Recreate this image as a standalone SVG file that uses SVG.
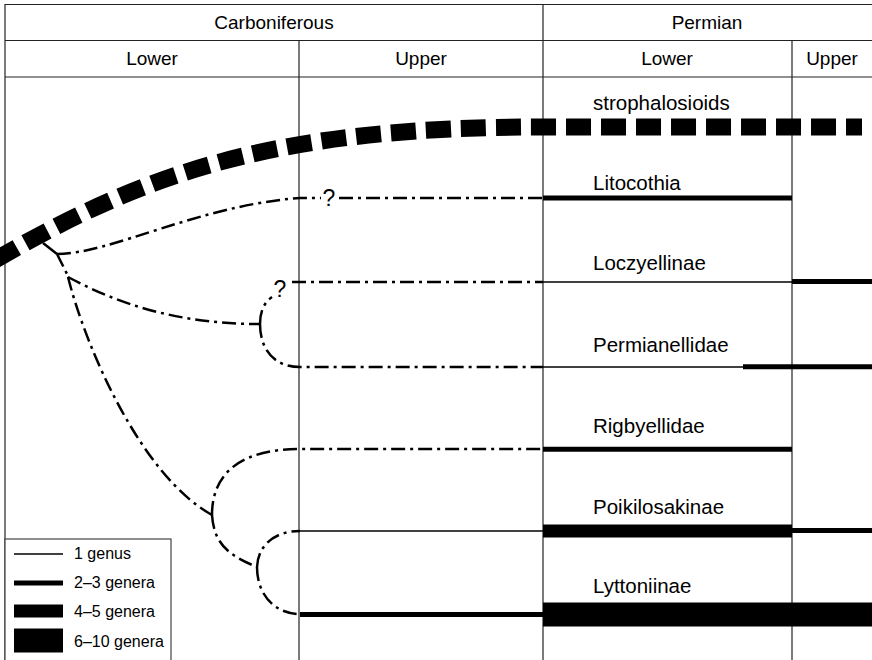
<svg xmlns="http://www.w3.org/2000/svg" width="872" height="660" viewBox="0 0 872 660">
<style>
 text { font-family: "Liberation Sans", Arial, sans-serif; fill:#000; }
 .hdr { font-size:19px; text-anchor:middle; }
 .lbl { font-size:20.5px; }
 .leg { font-size:16px; }
 .q { font-size:23px; text-anchor:middle; }
 .grid { stroke:#222; stroke-width:1.2; fill:none; }
 .dd { stroke:#000; stroke-width:2.5; fill:none; stroke-dasharray:14 5 3 5; }
 .g1 { stroke:#000; stroke-width:1.5; fill:none; }
 .g2 { stroke:#000; stroke-width:5; fill:none; }
 .thick { stroke:#000; stroke-width:17; fill:none; stroke-dasharray:25 10; }
</style>
<rect width="872" height="660" fill="#fff"/>
<g id="grid" class="grid">
 <line x1="5" y1="4.5" x2="872" y2="4.5"/>
 <line x1="5" y1="40.5" x2="872" y2="40.5"/>
 <line x1="5" y1="77" x2="872" y2="77"/>
 <line x1="5" y1="4" x2="5" y2="660"/>
 <line x1="299" y1="40.5" x2="299" y2="660"/>
 <line x1="543" y1="4" x2="543" y2="660"/>
 <line x1="792" y1="40.5" x2="792" y2="660"/>
</g>
<g id="header">
 <text class="hdr" x="274" y="29">Carboniferous</text>
 <text class="hdr" x="707" y="29">Permian</text>
 <text class="hdr" x="152" y="65">Lower</text>
 <text class="hdr" x="421" y="65">Upper</text>
 <text class="hdr" x="667" y="65">Lower</text>
 <text class="hdr" x="832" y="65">Upper</text>
</g>
<g id="connectors">
 <line x1="43" y1="243" x2="57" y2="254" stroke="#000" stroke-width="2.5"/>
 <path class="dd" d="M57,254 C110,254 200,205 300,198 L321,198"/>
 <path class="dd" d="M339,198 L543,198"/>
 <path class="dd" d="M57,254 L68,276"/>
 <path class="dd" d="M68,277 C120,305 180,324 260,324"/>
 <path class="dd" d="M260,324 C260,310 265,302 272,297"/>
 <path class="dd" d="M292,282 L543,282"/>
 <path class="dd" d="M260,324 C260,347 272,367 300,367 L543,367"/>
 <path class="dd" d="M68,277 C85,345 140,475 212,515"/>
 <path class="dd" d="M212,515 C212,470 245,449 300,449 L543,449"/>
 <path class="dd" d="M212,515 C214,545 230,556 257,567"/>
 <path class="dd" d="M257,567 C258,545 275,531 300,531"/>
 <path class="dd" d="M257,567 C257,595 275,614 300,614"/>
 <text class="q" x="329" y="206">?</text>
 <text class="q" x="280" y="297">?</text>
</g>
<g id="strophalosioids">
 <path class="thick" d="M-5,260 C150,170 280,127 543,127 L862,127"/>
 <text class="lbl" x="593" y="110">strophalosioids</text>
</g>
<g id="litocothia">
 <line class="g2" x1="543" y1="198" x2="792" y2="198"/>
 <text class="lbl" x="593" y="190">Litocothia</text>
</g>
<g id="loczyellinae">
 <line class="g1" x1="543" y1="282" x2="792" y2="282"/>
 <line class="g2" x1="792" y1="281.5" x2="872" y2="281.5"/>
 <text class="lbl" x="593" y="270">Loczyellinae</text>
</g>
<g id="permianellidae">
 <line class="g1" x1="543" y1="367" x2="745" y2="367"/>
 <line class="g2" x1="743" y1="366.8" x2="872" y2="366.8"/>
 <text class="lbl" x="593" y="352">Permianellidae</text>
</g>
<g id="rigbyellidae">
 <line class="g2" x1="543" y1="449.3" x2="792" y2="449.3"/>
 <text class="lbl" x="593" y="433">Rigbyellidae</text>
</g>
<g id="poikilosakinae">
 <line class="g1" x1="300" y1="531" x2="543" y2="531"/>
 <rect x="543" y="524.5" width="249" height="13" fill="#000"/>
 <line class="g2" x1="792" y1="530.5" x2="872" y2="530.5"/>
 <text class="lbl" x="593" y="514">Poikilosakinae</text>
</g>
<g id="lyttoniinae">
 <line class="g2" x1="300" y1="614.5" x2="543" y2="614.5"/>
 <rect x="543" y="602.5" width="329" height="24" fill="#000"/>
 <text class="lbl" x="593" y="593">Lyttoniinae</text>
</g>
<g id="legend">
 <rect x="5" y="539" width="166" height="125" fill="#fff" stroke="#444" stroke-width="1.2"/>
 <line class="g1" x1="14" y1="554" x2="63" y2="554"/>
 <line class="g2" x1="14" y1="583" x2="63" y2="583"/>
 <rect x="14" y="604.5" width="49" height="13" fill="#000"/>
 <rect x="14" y="628.5" width="49" height="24" fill="#000"/>
 <text class="leg" x="74" y="559">1 genus</text>
 <text class="leg" x="74" y="588">2–3 genera</text>
 <text class="leg" x="74" y="617">4–5 genera</text>
 <text class="leg" x="74" y="646.5">6–10 genera</text>
</g>
</svg>
